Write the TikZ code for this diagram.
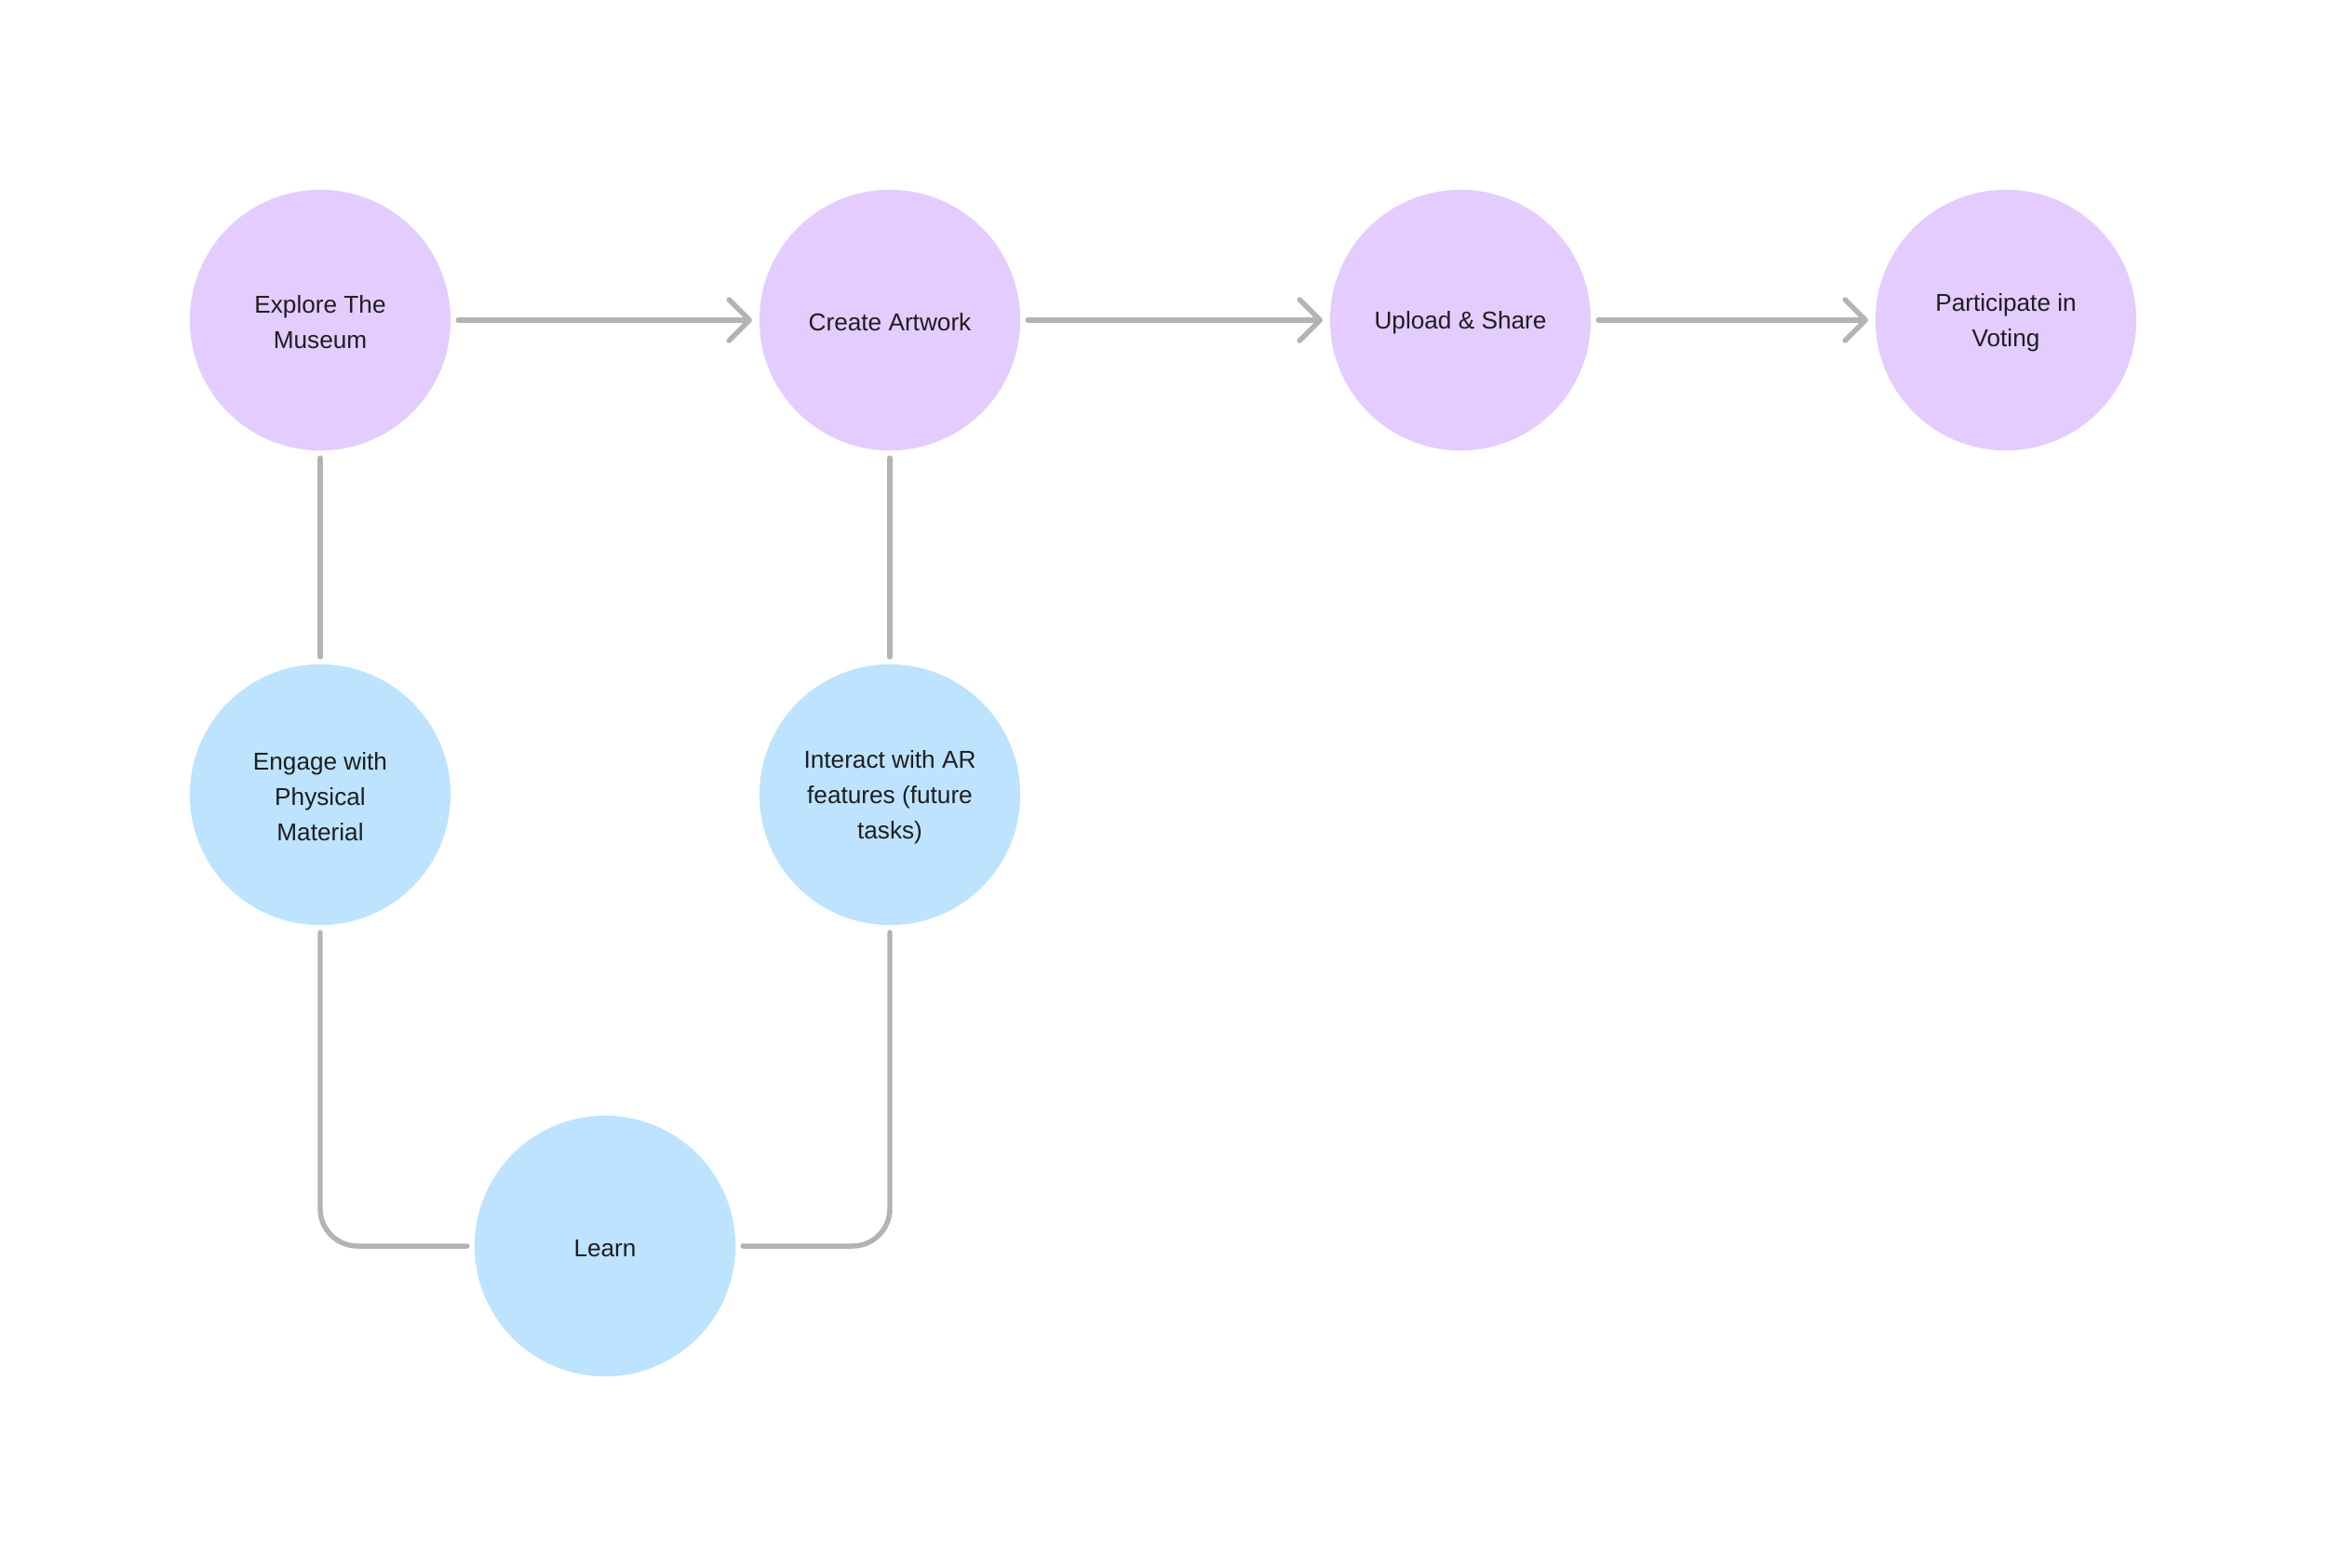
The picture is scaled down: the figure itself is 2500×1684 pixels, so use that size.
\documentclass[tikz,border=0pt]{standalone}
\usepackage{fontspec}
\setmainfont{Liberation Sans}
\usetikzlibrary{arrows.meta}
\definecolor{violetfill}{HTML}{E4CCFF}
\definecolor{bluefill}{HTML}{BDE3FF}
\definecolor{linkgray}{HTML}{B3B3B3}
\definecolor{txt}{HTML}{1E1E1E}
\begin{document}
\begin{tikzpicture}[x=0.01cm,y=-0.01cm,
  bubble/.style={circle, minimum size=2.8cm, inner sep=0pt, outer sep=0.08cm},
  txtlbl/.style={text=txt, align=center, inner sep=0pt, yshift=-0.025cm,
    font=\fontsize{7.45pt}{10.8pt}\selectfont},
  violet/.style={bubble, fill=violetfill},
  blue/.style={bubble, fill=bluefill},
  link/.style={draw=linkgray, line width=1.55pt, line cap=round, line join=round},
  flow/.style={link, -{Straight Barb[length=0.22cm, width=0.44cm, line cap=round, line join=round]}}
]
\useasboundingbox (0,0) rectangle (2500,1684);
\node[violet, label={[txtlbl]center:Explore The\\Museum}] (explore) at (344,344) {};
\node[violet, label={[txtlbl]center:Create Artwork}] (create) at (956,344) {};
\node[violet, label={[txtlbl]center:Upload \& Share}] (upload) at (1569,344) {};
\node[violet, label={[txtlbl]center:Participate in\\Voting}] (vote) at (2155,344) {};
\node[blue, label={[txtlbl]center:Engage with\\Physical\\Material}] (engage) at (344,854) {};
\node[blue, label={[txtlbl]center:Interact with AR\\features (future\\tasks)}] (ar) at (956,854) {};
\node[blue, label={[txtlbl]center:Learn}] (learn) at (650,1339) {};

\draw[flow] (explore.east) -- (create.west);
\draw[flow] (create.east) -- (upload.west);
\draw[flow] (upload.east) -- (vote.west);
\draw[link] (explore.south) -- (engage.north);
\draw[link] (create.south) -- (ar.north);
\draw[link, rounded corners=0.4cm] (engage.south) |- (learn.west);
\draw[link, rounded corners=0.4cm] (learn.east) -| (ar.south);
\end{tikzpicture}
\end{document}
